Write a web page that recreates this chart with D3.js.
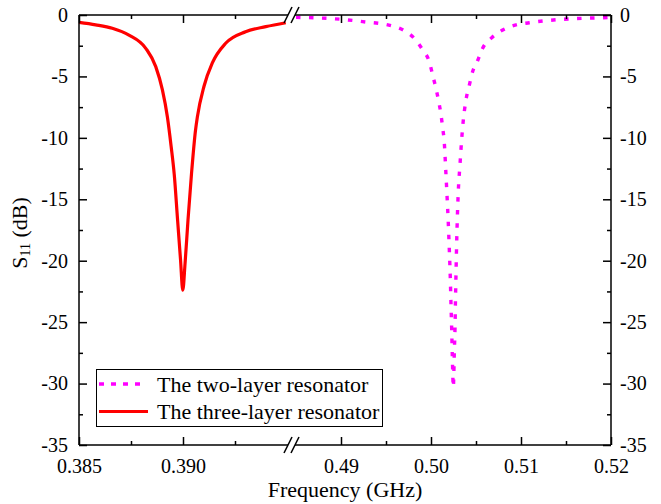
<!DOCTYPE html>
<html>
<head>
<meta charset="utf-8">
<script src="https://cdn.jsdelivr.net/npm/d3@7"></script>
<style>
  html, body { margin: 0; padding: 0; background: #fff; }
  svg { display: block; }
</style>
</head>
<body>
<svg id="chart" width="661" height="504"></svg>
<script>
// Three-layer resonator (left, narrow frequency window), GHz / dB
const threeLayerFreq = [0.3850, 0.3858, 0.3866, 0.3874, 0.38821, 0.38869, 0.38901, 0.38925, 0.38943,
  0.38958, 0.38974, 0.38988, 0.38999, 0.39010, 0.39024, 0.39041, 0.39060, 0.39069, 0.39101,
  0.39141, 0.39205, 0.39301, 0.39398, 0.39494];
const threeLayerS11 = [-0.60, -0.80, -1.08, -1.63, -2.71, -4.2, -6.1, -8.3, -10.7,
  -13.0, -16.7, -19.9, -22.4, -20.2, -16.7, -12.9, -9.4, -8.3, -5.8,
  -3.9, -2.3, -1.36, -0.95, -0.63];

// Two-layer resonator (right window), GHz / dB
const twoLayerFreq = [0.4850, 0.4900, 0.49241, 0.49574, 0.49703, 0.49814, 0.49908, 0.49981,
  0.50019, 0.50056, 0.50086, 0.50111, 0.50130, 0.50148, 0.50163, 0.50178, 0.50192, 0.50203,
  0.50214, 0.50222, 0.50230, 0.50237, 0.50248, 0.50252, 0.50259, 0.50267, 0.50272, 0.50278,
  0.50284, 0.50292, 0.50303, 0.50322, 0.50341, 0.50352, 0.50389, 0.50426, 0.50463, 0.50519,
  0.50574, 0.50667, 0.50797, 0.50944, 0.51092, 0.51241, 0.51463, 0.51686, 0.51981, 0.5200];
const twoLayerS11 = [-0.19, -0.35, -0.54, -0.9, -1.27, -1.9, -2.85, -3.8,
  -4.9, -6.0, -7.05, -8.1, -9.2, -10.4, -12.5, -14.7, -16.9, -19.0,
  -21.3, -23.5, -25.6, -27.8, -30.3, -29.7, -27.5, -25.4, -23.2, -21.0,
  -18.9, -16.7, -14.4, -12.2, -10.1, -9.1, -6.9, -5.7, -4.6, -3.7,
  -2.7, -1.9, -1.22, -0.81, -0.63, -0.49, -0.35, -0.27, -0.19, -0.18];

const yTicks = [0, -5, -10, -15, -20, -25, -30, -35];
const yMinorTicks = [-2.5, -7.5, -12.5, -17.5, -22.5, -27.5, -32.5];
const leftXTicks = [0.385, 0.390];
const leftXLabels = ["0.385", "0.390"];
const leftXMinor = [0.3875, 0.3925];
const rightXTicks = [0.49, 0.50, 0.51, 0.52];
const rightXLabels = ["0.49", "0.50", "0.51", "0.52"];
const rightXMinor = [0.495, 0.505, 0.515];
const seriesNames = ["The two-layer resonator", "The three-layer resonator"];

const FONT = '"Liberation Serif", "Times New Roman", serif';
const svg = d3.select("#chart").style("font-family", FONT);
const plotTop = 15, plotBottom = 445, plotLeft = 79, plotRight = 611;
const breakL = 287, breakR = 296;

const y = d3.scaleLinear().domain([-35, 0]).range([plotBottom, plotTop]);
const xL = d3.scaleLinear().domain([0.385, 0.395]).range([plotLeft, breakL]);
const xR = d3.scaleLinear().domain([0.485, 0.52]).range([breakR, plotRight]);

const MAJ = 8, MIN = 4;
const tickFont = 20;

// curves
const lineL = d3.line().x(d => xL(d[0])).y(d => y(d[1])).curve(d3.curveMonotoneX);
const lineR = d3.line().x(d => xR(d[0])).y(d => y(d[1])).curve(d3.curveMonotoneX);

svg.append("path")
  .attr("d", lineL(d3.zip(threeLayerFreq, threeLayerS11)))
  .attr("fill", "none").attr("stroke", "#ff0000").attr("stroke-width", 3.2)
  .attr("stroke-linejoin", "round");

svg.append("path")
  .attr("d", lineR(d3.zip(twoLayerFreq, twoLayerS11)))
  .attr("fill", "none").attr("stroke", "#ff00ff").attr("stroke-width", 3.4)
  .attr("stroke-dasharray", "4.5,8.5");

// frame
const frame = svg.append("g").attr("stroke", "#000").attr("stroke-width", 1.5).attr("fill", "none");
frame.append("line").attr("x1", plotLeft).attr("x2", plotLeft).attr("y1", plotTop).attr("y2", plotBottom);
frame.append("line").attr("x1", plotRight).attr("x2", plotRight).attr("y1", plotTop).attr("y2", plotBottom);
[plotTop, plotBottom].forEach(yy => {
  frame.append("line").attr("x1", plotLeft).attr("x2", breakL + 1).attr("y1", yy).attr("y2", yy);
  frame.append("line").attr("x1", breakR - 1).attr("x2", plotRight).attr("y1", yy).attr("y2", yy);
  // break marks
  [breakL + 1, breakR - 1].forEach(cx => {
    frame.append("line")
      .attr("x1", cx - 4).attr("y1", yy + 8)
      .attr("x2", cx + 4).attr("y2", yy - 8);
  });
});

function styleAxis(g) {
  g.attr("font-family", null).style("font-family", FONT);
  g.select(".domain").remove();
  g.selectAll("line").attr("stroke", "#000").attr("stroke-width", 1.5);
  g.selectAll("text").attr("font-size", tickFont).attr("fill", "#000").style("font-family", FONT);
}

// y axes
svg.append("g").attr("transform", `translate(${plotLeft},0)`)
  .call(d3.axisLeft(y).tickValues(yTicks).tickFormat(d => String(d)).tickSize(-MAJ).tickPadding(11))
  .call(styleAxis);
svg.append("g").attr("transform", `translate(${plotLeft},0)`)
  .call(d3.axisLeft(y).tickValues(yMinorTicks).tickFormat("").tickSize(-MIN))
  .call(styleAxis);
svg.append("g").attr("transform", `translate(${plotRight},0)`)
  .call(d3.axisRight(y).tickValues(yTicks).tickFormat(d => String(d)).tickSize(-MAJ).tickPadding(9))
  .call(styleAxis);
svg.append("g").attr("transform", `translate(${plotRight},0)`)
  .call(d3.axisRight(y).tickValues(yMinorTicks).tickFormat("").tickSize(-MIN))
  .call(styleAxis);

// x axes (bottom with labels, top ticks only)
function xAxes(scale, major, labels, minor) {
  svg.append("g").attr("transform", `translate(0,${plotBottom})`)
    .call(d3.axisBottom(scale).tickValues(major).tickFormat((d, i) => labels[i]).tickSize(-MAJ).tickPadding(14))
    .call(styleAxis);
  svg.append("g").attr("transform", `translate(0,${plotBottom})`)
    .call(d3.axisBottom(scale).tickValues(minor).tickFormat("").tickSize(-MIN))
    .call(styleAxis);
  svg.append("g").attr("transform", `translate(0,${plotTop})`)
    .call(d3.axisTop(scale).tickValues(major).tickFormat("").tickSize(-MAJ))
    .call(styleAxis);
  svg.append("g").attr("transform", `translate(0,${plotTop})`)
    .call(d3.axisTop(scale).tickValues(minor).tickFormat("").tickSize(-MIN))
    .call(styleAxis);
}
xAxes(xL, leftXTicks, leftXLabels, leftXMinor);
xAxes(xR, rightXTicks, rightXLabels, rightXMinor);

// axis titles
svg.append("text")
  .attr("x", 345).attr("y", 497)
  .attr("text-anchor", "middle").attr("font-size", 22)
  .style("font-family", FONT)
  .text("Frequency (GHz)");

const yTitle = svg.append("text")
  .attr("transform", "translate(27,233) rotate(-90)")
  .attr("text-anchor", "middle").attr("font-size", 22)
  .style("font-family", FONT);
yTitle.append("tspan").text("S");
yTitle.append("tspan").attr("font-size", 14).attr("dy", 3).text("11");
yTitle.append("tspan").attr("dy", -3).text(" (dB)");

// legend
const lg = svg.append("g").style("font-family", FONT);
lg.append("rect").attr("x", 96.5).attr("y", 369.5).attr("width", 286).attr("height", 57)
  .attr("fill", "#fff").attr("stroke", "#000").attr("stroke-width", 1);
lg.append("line").attr("x1", 99).attr("x2", 147).attr("y1", 384).attr("y2", 384)
  .attr("stroke", "#ff00ff").attr("stroke-width", 3.4).attr("stroke-dasharray", "5,7");
lg.append("line").attr("x1", 99).attr("x2", 148).attr("y1", 411.5).attr("y2", 411.5)
  .attr("stroke", "#ff0000").attr("stroke-width", 3.2);
lg.append("text").attr("x", 157).attr("y", 391.5).attr("font-size", 22).text(seriesNames[0]);
lg.append("text").attr("x", 157).attr("y", 418.5).attr("font-size", 22).text(seriesNames[1]);
</script>
</body>
</html>
